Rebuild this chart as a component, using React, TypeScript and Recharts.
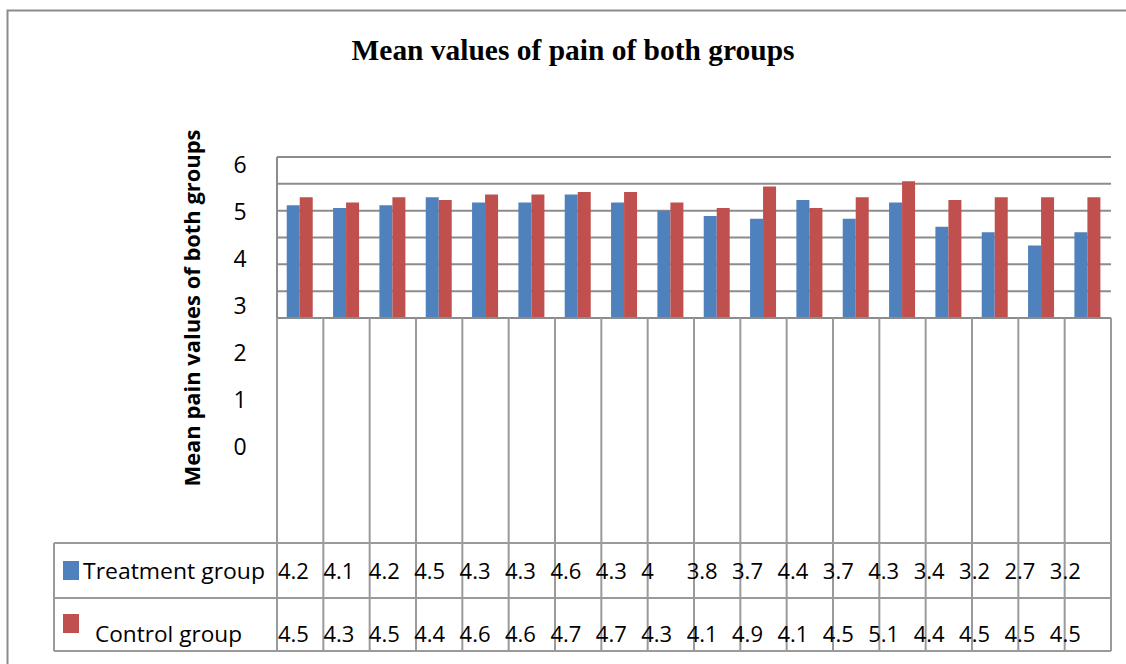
import React from "react"
import { BarChart, Bar, XAxis, YAxis, CartesianGrid } from "recharts"

const sessions = ["1", "2", "3", "4", "5", "6", "7", "8", "9", "10", "11", "12", "13", "14", "15", "16", "17", "18"]
const treatment = [4.2, 4.1, 4.2, 4.5, 4.3, 4.3, 4.6, 4.3, 4, 3.8, 3.7, 4.4, 3.7, 4.3, 3.4, 3.2, 2.7, 3.2]
const control = [4.5, 4.3, 4.5, 4.4, 4.6, 4.6, 4.7, 4.7, 4.3, 4.1, 4.9, 4.1, 4.5, 5.1, 4.4, 4.5, 4.5, 4.5]
const yTicks = [0, 1, 2, 3, 4, 5, 6]

const data = sessions.map((s, i) => ({ session: s, treatment: treatment[i], control: control[i] }))

// layout
const W = 1126
const H = 664
const PLOT_L = 277
const PLOT_R = 1111
const PLOT_T = 157
const PLOT_B = 318
const TABLE_L = 54
const TABLE_T = 543
const TABLE_M = 598
const TABLE_B = 651
const Y_W = 60
const X_H = 30
const BAND = (PLOT_R - PLOT_L) / sessions.length

const GRID = "#8c8c8c"
const TABLE_LINE = "#9a9a9a"
const BLUE = "#4F81BD"
const RED = "#C0504D"
const FONT = "'Open Sans', sans-serif"

// excel put the tick labels on their own spacing, not on the gridlines
const LABEL_TOP = 165
const LABEL_STEP = 47

const YTick = (props: any) => {
  const v = props.payload.value
  const y = LABEL_TOP + (6 - v) * LABEL_STEP
  return (
    <text x={240} y={y} dy={8} textAnchor="middle" fontFamily={FONT} fontSize={23} fill="#000">
      {v}
    </text>
  )
}

const TableTick = (props: any) => {
  const i = props.index
  const left = props.x - BAND / 2
  const tx = left + 1 - i * 0.93
  return (
    <g>
      <line x1={left} y1={PLOT_B} x2={left} y2={TABLE_B} stroke={TABLE_LINE} strokeWidth={2} />
      {i === sessions.length - 1 && (
        <line x1={left + BAND} y1={PLOT_B} x2={left + BAND} y2={TABLE_B} stroke={TABLE_LINE} strokeWidth={2} />
      )}
      <text x={tx} y={579} fontFamily={FONT} fontSize={22} fill="#000">
        {treatment[i]}
      </text>
      <text x={tx} y={642} fontFamily={FONT} fontSize={22} fill="#000">
        {control[i]}
      </text>
    </g>
  )
}

export default function App() {
  return (
    <div style={{ position: "absolute", left: 0, top: 0, width: W, height: H, background: "#fff" }}>
      <BarChart
        width={W}
        height={H}
        data={data}
        margin={{ top: PLOT_T, right: W - PLOT_R, left: PLOT_L - Y_W, bottom: H - PLOT_B - X_H }}
        barCategoryGap="21%"
        barGap={0}
      >
        <CartesianGrid vertical={false} stroke={GRID} strokeWidth={2} />
        <XAxis
          dataKey="session"
          height={X_H}
          interval={0}
          tickLine={false}
          axisLine={{ stroke: GRID, strokeWidth: 2 }}
          tick={<TableTick />}
        />
        <YAxis
          width={Y_W}
          domain={[0, 6]}
          ticks={yTicks}
          interval={0}
          tickLine={false}
          axisLine={{ stroke: GRID, strokeWidth: 2 }}
          tick={<YTick />}
        />
        <Bar dataKey="treatment" fill={BLUE} isAnimationActive={false} />
        <Bar dataKey="control" fill={RED} isAnimationActive={false} />
      </BarChart>
      <svg width={W} height={H} style={{ position: "absolute", left: 0, top: 0, pointerEvents: "none" }}>
        <path d={`M7.5 ${H + 5} V10.5 H${W + 5}`} fill="none" stroke={GRID} strokeWidth={2} />
        <text
          x={573}
          y={60}
          textAnchor="middle"
          fontFamily="'Liberation Serif', serif"
          fontWeight="bold"
          fontSize={30}
          textLength={443}
          lengthAdjust="spacingAndGlyphs"
        >
          Mean values of pain of both groups
        </text>
        <text
          x={0}
          y={0}
          transform="translate(200 308) rotate(-90)"
          textAnchor="middle"
          fontFamily={FONT}
          fontWeight="bold"
          fontSize={21}
          textLength={357}
          lengthAdjust="spacingAndGlyphs"
        >
          Mean pain values of both groups
        </text>
        <path
          d={`M${TABLE_L} ${TABLE_T} H${PLOT_R} M${TABLE_L} ${TABLE_M} H${PLOT_R} M${TABLE_L} ${TABLE_B} H${PLOT_R} M${TABLE_L} ${TABLE_T} V${TABLE_B}`}
          stroke={TABLE_LINE}
          strokeWidth={2}
          fill="none"
        />
        <rect x={63} y={561} width={16} height={19} fill={BLUE} />
        <text x={83} y={579} fontFamily={FONT} fontSize={21} textLength={182} lengthAdjust="spacingAndGlyphs">
          Treatment group
        </text>
        <rect x={63} y={614} width={16} height={19} fill={RED} />
        <text x={95} y={642} fontFamily={FONT} fontSize={21} textLength={147} lengthAdjust="spacingAndGlyphs">
          Control group
        </text>
      </svg>
    </div>
  )
}
